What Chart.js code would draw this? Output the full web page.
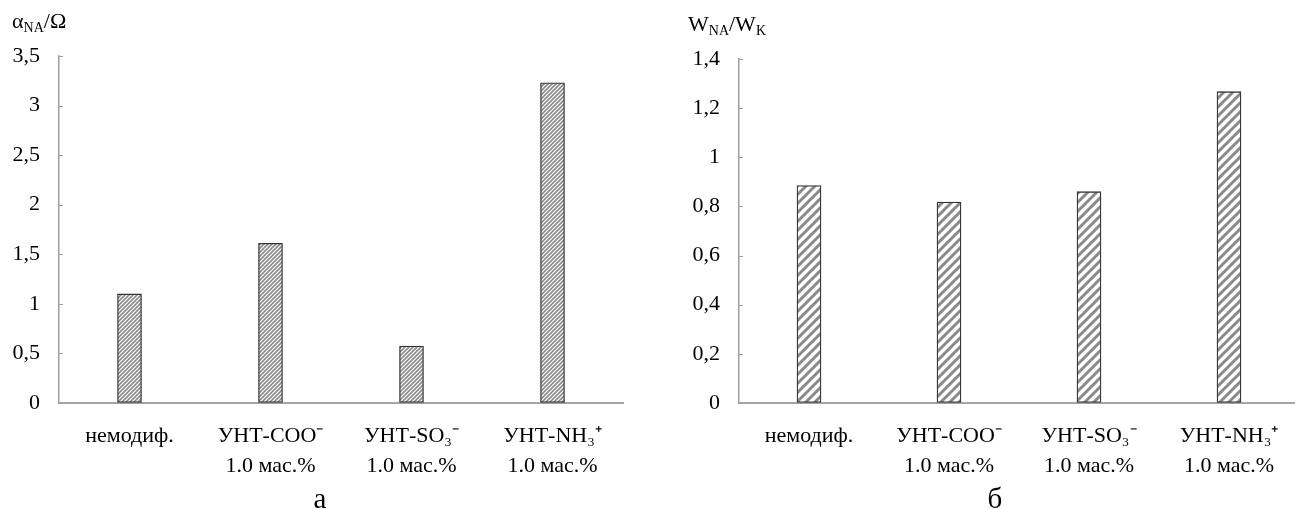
<!DOCTYPE html>
<html>
<head>
<meta charset="utf-8">
<script src="https://cdn.jsdelivr.net/npm/chart.js@4"></script>
<style>
    html, body {
        margin: 0;
        padding: 0;
        background: #fff;
        overflow: hidden;
        width: 1295px;
        height: 509px;
        position: relative;
        font-family: "Liberation Serif", serif;
    }
    canvas {
        position: absolute;
        top: 0;
    }
    .ytitle {
        position: absolute;
        font-size: 22px;
        line-height: 1;
        color: #000;
        white-space: nowrap;
    }
    .ytitle sub {
        font-size: 14px;
        vertical-align: -4px;
    }
    .caption {
        position: absolute;
        width: 80px;
        text-align: center;
        font-size: 29px;
        line-height: 1;
        color: #000;
    }
</style>
</head>
<body>
<canvas id="grafico1" width="640" height="509" style="left:0"></canvas>
<canvas id="grafico2" width="660" height="509" style="left:650px"></canvas>

<div class="ytitle" style="left:12px; top:10px">α<sub>NA</sub>/Ω</div>
<div class="ytitle" style="left:688px; top:13px">W<sub>NA</sub>/W<sub>K</sub></div>
<div class="caption" style="left:280px; top:484px">а</div>
<div class="caption" style="left:955px; top:484px">б</div>

<script>
// categorias (iguais nos dois gráficos)
const categories = [
    ["немодиф."],
    ["УНТ-COO⁻", "1.0 мас.%"],
    ["УНТ-SO₃⁻", "1.0 мас.%"],
    ["УНТ-NH₃⁺", "1.0 мас.%"],
];

// gráfico а
const alphaRatio = [1.1, 1.61, 0.575, 3.23];
const alphaMax = 3.5;
const alphaStep = 0.5;

// gráfico б
const wRatio = [0.885, 0.818, 0.86, 1.267];
const wMax = 1.4;
const wStep = 0.2;

const fontFamily = "'Liberation Serif', 'Times New Roman', serif";

function makeHatch(step, lineWidth, color) {
    const c = document.createElement("canvas");
    c.width = step;
    c.height = step;
    const ctx = c.getContext("2d");
    ctx.fillStyle = "#fff";
    ctx.fillRect(0, 0, step, step);
    ctx.strokeStyle = color;
    ctx.lineWidth = lineWidth;
    ctx.beginPath();
    ctx.moveTo(0, step);
    ctx.lineTo(step, 0);
    ctx.moveTo(-step / 2, step / 2);
    ctx.lineTo(step / 2, -step / 2);
    ctx.moveTo(step / 2, step * 1.5);
    ctx.lineTo(step * 1.5, step / 2);
    ctx.stroke();
    return c.getContext("2d").createPattern(c, "repeat");
}

function formatTick(value) {
    return Number(value.toFixed(1)).toString().replace(".", ",");
}

// marcas do eixo y para dentro da área
const innerTicks = {
    id: "innerTicks",
    afterDraw(chart) {
        const y = chart.scales.y;
        const ctx = chart.ctx;
        ctx.save();
        ctx.strokeStyle = "#a0a0a0";
        ctx.lineWidth = 1;
        y.ticks.forEach((t) => {
            const py = Math.round(y.getPixelForValue(t.value)) + 0.5;
            ctx.beginPath();
            ctx.moveTo(y.right, py);
            ctx.lineTo(y.right + 4, py);
            ctx.stroke();
        });
        ctx.restore();
    },
};

function createChart(canvas, values, max, step, hatch, yWidth, padTop, padRight) {
    return new Chart(canvas, {
        type: "bar",
        data: {
            labels: categories,
            datasets: [
                {
                    data: values,
                    backgroundColor: hatch,
                    borderColor: "#333",
                    borderWidth: 1.3,
                    borderSkipped: false,
                    barThickness: 24,
                },
            ],
        },
        options: {
            responsive: false,
            animation: false,
            devicePixelRatio: 1,
            layout: {
                padding: { top: padTop, right: padRight, left: 0, bottom: 0 },
            },
            plugins: {
                legend: { display: false },
                tooltip: { enabled: false },
            },
            scales: {
                x: {
                    grid: { display: false },
                    border: { color: "#a5a5a5", width: 2 },
                    ticks: {
                        color: "#000",
                        padding: 10,
                        maxRotation: 0,
                        autoSkip: false,
                        font: { family: fontFamily, size: 22, lineHeight: 1.36 },
                    },
                    afterFit: (scale) => {
                        scale.height = 106;
                    },
                },
                y: {
                    min: 0,
                    max: max,
                    ticks: {
                        stepSize: step,
                        color: "#000",
                        padding: 19,
                        font: { family: fontFamily, size: 22 },
                        callback: (v) => formatTick(v),
                    },
                    grid: { drawOnChartArea: false, drawTicks: false },
                    border: { color: "#a0a0a0", width: 1.5 },
                    afterFit: (scale) => {
                        scale.width = yWidth;
                    },
                },
            },
        },
        plugins: [innerTicks],
    });
}

createChart(
    document.getElementById("grafico1"),
    alphaRatio, alphaMax, alphaStep,
    makeHatch(4, 1.6, "#8a8a8a"),
    59, 56, 17
);

createChart(
    document.getElementById("grafico2"),
    wRatio, wMax, wStep,
    makeHatch(9, 3, "#8a8a8a"),
    89, 59, 11
);
</script>
</body>
</html>
